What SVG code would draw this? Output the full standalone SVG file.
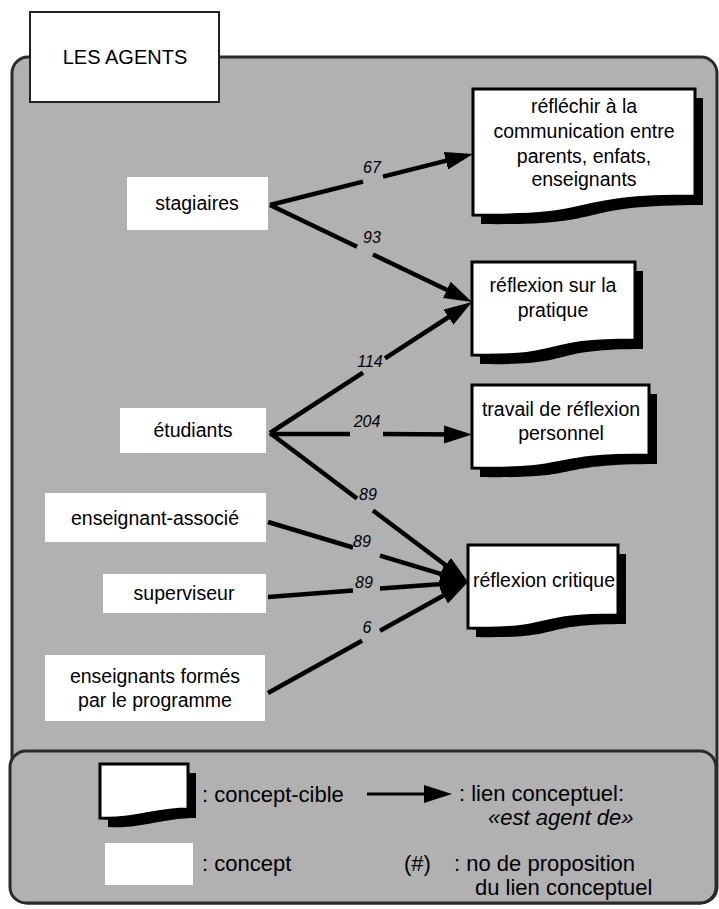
<svg xmlns="http://www.w3.org/2000/svg" width="719" height="909" viewBox="0 0 719 909">
  <defs>
    <style>
      .panel { fill: #b1b1b1; stroke: #2a2a2a; stroke-width: 3; }
      .concept { fill: #ffffff; }
      .target { fill: #ffffff; stroke: #000000; stroke-width: 3; }
      .shadow { fill: #000000; }
      text { font-family: "Liberation Sans", Arial, Helvetica, sans-serif; fill: #000000; }
      .lbl { font-size: 19.5px; text-anchor: middle; }
      .num { font-size: 16px; font-style: italic; text-anchor: middle; }
      .leg { font-size: 22px; }
      .link { stroke: #000000; stroke-width: 4.5; fill: none; }
    </style>
    <marker id="head" markerUnits="userSpaceOnUse" markerWidth="32" markerHeight="20" refX="16" refY="9" orient="auto">
      <path d="M0,0 L28,9 L0,18 Z" fill="#000000"/>
    </marker>
  </defs>

  <!-- background panels -->
  <rect class="panel" x="12" y="57" width="705" height="846" rx="16"/>
  <rect class="panel" x="10" y="751" width="706" height="152" rx="16"/>

  <!-- title -->
  <g id="title">
    <rect x="30" y="12" width="189" height="90" fill="#ffffff" stroke="#222222" stroke-width="2"/>
    <text x="125" y="64" font-size="20" text-anchor="middle">LES AGENTS</text>
  </g>

  <!-- source concepts -->
  <g id="stagiaires">
    <rect class="concept" x="127" y="177" width="141" height="53"/>
    <text class="lbl" x="197" y="210">stagiaires</text>
  </g>
  <g id="etudiants">
    <rect class="concept" x="120" y="408" width="146" height="45"/>
    <text class="lbl" x="193" y="437">étudiants</text>
  </g>
  <g id="enseignant-associe">
    <rect class="concept" x="45" y="493" width="221" height="49"/>
    <text class="lbl" x="155" y="525">enseignant-associé</text>
  </g>
  <g id="superviseur">
    <rect class="concept" x="103" y="574" width="163" height="39"/>
    <text class="lbl" x="184" y="600">superviseur</text>
  </g>
  <g id="enseignants-formes">
    <rect class="concept" x="45" y="655" width="220" height="66"/>
    <text class="lbl" x="155" y="683">enseignants formés</text>
    <text class="lbl" x="155" y="707">par le programme</text>
  </g>

  <!-- target concepts: box with wavy bottom and drop shadow -->
  <g id="communication">
    <path class="shadow" transform="translate(8,9)" d="M473,89 H695 V196 C557,196 611,217 473,215 Z"/>
    <path class="target" d="M473,89 H695 V196 C557,196 611,217 473,215 Z"/>
    <text class="lbl" x="584" y="113">réfléchir à la</text>
    <text class="lbl" x="584" y="138">communication entre</text>
    <text class="lbl" x="584" y="163">parents, enfats,</text>
    <text class="lbl" x="584" y="186">enseignants</text>
  </g>
  <g id="pratique">
    <path class="shadow" transform="translate(8,9)" d="M472,262 H635 V340 C534,340 573,357 472,355 Z"/>
    <path class="target" d="M472,262 H635 V340 C534,340 573,357 472,355 Z"/>
    <text class="lbl" x="553" y="292">réflexion sur la</text>
    <text class="lbl" x="553" y="317">pratique</text>
  </g>
  <g id="personnel">
    <path class="shadow" transform="translate(8,9)" d="M472,385 H649 V455 C539,455 582,470 472,468 Z"/>
    <path class="target" d="M472,385 H649 V455 C539,455 582,470 472,468 Z"/>
    <text class="lbl" x="561" y="416">travail de réflexion</text>
    <text class="lbl" x="561" y="440">personnel</text>
  </g>
  <g id="critique">
    <path class="shadow" transform="translate(8,9)" d="M468,545 H618 V615 C525,615 561,630 468,628 Z"/>
    <path class="target" d="M468,545 H618 V615 C525,615 561,630 468,628 Z"/>
    <text class="lbl" x="544" y="587">réflexion critique</text>
  </g>

  <!-- connectors: "est agent de", split around the proposition number -->
  <g id="connectors">
    <path class="link" d="M270,205 L363,181.6"/>
    <path class="link" d="M383,176.6 L461.4,156.9" marker-end="url(#head)"/>
    <text class="num" x="372" y="173">67</text>

    <path class="link" d="M270,205 L357,246.8"/>
    <path class="link" d="M373,254.5 L461.2,296.8" marker-end="url(#head)"/>
    <text class="num" x="372" y="243">93</text>

    <path class="link" d="M270,433 L363,372.7"/>
    <path class="link" d="M385,358.4 L461.9,308.5" marker-end="url(#head)"/>
    <text class="num" x="370" y="367">114</text>

    <path class="link" d="M270,434 L350,434"/>
    <path class="link" d="M383,434 L460,434.5" marker-end="url(#head)"/>
    <text class="num" x="367" y="427">204</text>

    <path class="link" d="M270,433 L357,498.5"/>
    <path class="link" d="M373,510.5 L458.4,574.8" marker-end="url(#head)"/>
    <text class="num" x="368" y="500">89</text>

    <path class="link" d="M268,522 L353,547.5"/>
    <path class="link" d="M380,555.6 L456.5,578.6" marker-end="url(#head)"/>
    <text class="num" x="362" y="547">89</text>

    <path class="link" d="M268,597 L353,590.6"/>
    <path class="link" d="M380,588.6 L456,582.9" marker-end="url(#head)"/>
    <text class="num" x="364" y="588">89</text>

    <path class="link" d="M268,693 L362,640.8"/>
    <path class="link" d="M380,630.8 L457.5,587.8" marker-end="url(#head)"/>
    <text class="num" x="367" y="633">6</text>
  </g>

  <!-- legend -->
  <g id="legend">
    <path class="shadow" transform="translate(8,9)" d="M100,764 H188 V809 C154,809 134,820 100,818 Z"/>
    <path class="target" d="M100,764 H188 V809 C154,809 134,820 100,818 Z"/>
    <text class="leg" x="202" y="802">: concept-cible</text>
    <path d="M367,794 L440,794" stroke="#000000" stroke-width="3" fill="none" marker-end="url(#head)"/>
    <text class="leg" x="459" y="801">: lien conceptuel:</text>
    <text class="leg" x="488" y="825" font-style="italic">«est agent de»</text>
    <rect class="concept" x="105" y="843" width="88" height="42"/>
    <text class="leg" x="202" y="871">: concept</text>
    <text class="leg" x="404" y="871">(#)</text>
    <text class="leg" x="454" y="871">: no de proposition</text>
    <text class="leg" x="475" y="895">du lien conceptuel</text>
  </g>
</svg>
